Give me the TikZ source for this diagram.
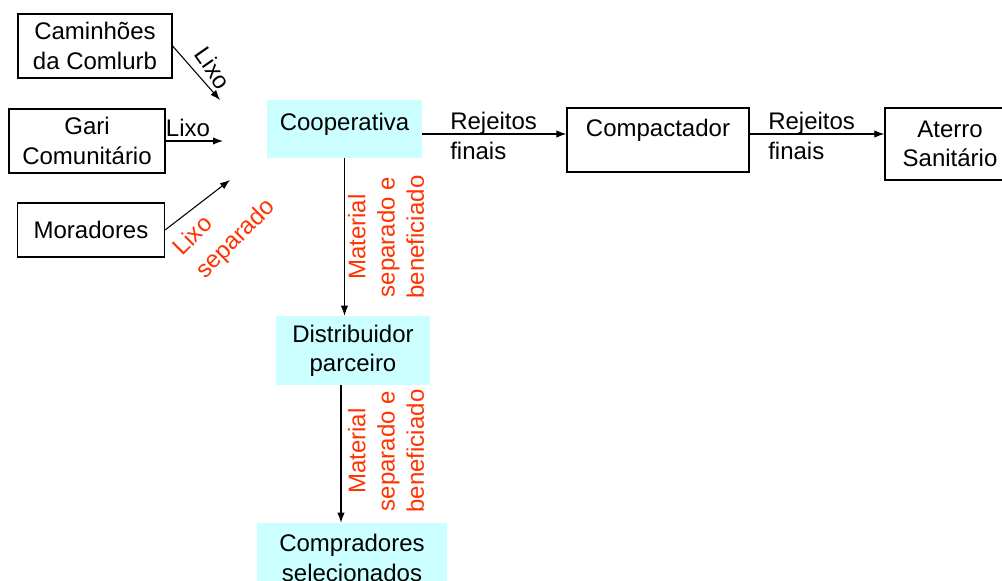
\documentclass[tikz,border=0pt]{standalone}
\usepackage{fontspec}
\setmainfont{Liberation Sans}
\usetikzlibrary{positioning, arrows.meta}
\definecolor{ciano}{RGB}{204,255,255}
\definecolor{vermelho}{RGB}{255,51,0}
\tikzset{
	caixa/.style={draw, line width=0.9pt, align=center, inner sep=0pt},
	caixaciano/.style={fill=ciano, align=center, inner sep=0pt},
	seta/.style={-{Latex[length=7.5pt,width=5.5pt]}, line width=0.8pt},
	rotulo/.style={align=left, inner sep=0pt},
	rotulovermelho/.style={text=vermelho, align=center, inner sep=0pt}
}

\begin{document}
\begin{tikzpicture}[x=0.75pt, y=-0.75pt, font=\fontsize{18}{22}\selectfont]
		\clip (0,0) rectangle (1002,581);
		
		% origens do lixo
		\node[caixa, minimum width=115.5pt, minimum height=48pt] (cam) at (95,46) {Caminhões\\da Comlurb};
		\node[caixa, minimum width=117pt, minimum height=48pt] (gari) at (87,141) {Gari\\Comunitário};
		\node[caixa, minimum width=110.25pt, minimum height=40.5pt] (mor) at (91,230) {Moradores};
		
		\coordinate (alvoA) at (220,100);
		\coordinate (alvoB) at (223,141);
		\coordinate (alvoC) at (230,180);
		
		\draw[seta] (cam.east)--(alvoA);
		\draw[seta] (gari.east)--(alvoB);
		\draw[seta] (mor.east)--(alvoC);
		
		\node[rotulo, rotate=-55] (lixoA) at (213,68) {Lixo};
		\node[rotulo] (lixoB) at (188,128) {Lixo};
		\node[rotulo, text=vermelho, rotate=45, font=\fontsize{18}{24}\selectfont] (lixoC) at (225,228) {Lixo\\separado};
		
		% cooperativa e rejeitos
		\node[caixaciano, minimum width=116.25pt, minimum height=43.5pt, text height=13pt, text depth=10.5pt] (coop) at (344.5,129) {Cooperativa};
		\node[caixa, minimum width=136.5pt, minimum height=48pt, text height=13pt, text depth=18pt] (comp) at (658,140) {Compactador};
		\node[caixa, minimum width=97.5pt, minimum height=54pt] (aterro) at (950,144) {Aterro\\Sanitário};
		
		\coordinate (nivel) at (0,134);
		\draw[seta] (coop.east |- nivel)--(comp.west |- nivel);
		\draw[seta] (comp.east |- nivel)--(aterro.west |- nivel);
		
		\node[rotulo, anchor=west] (rejA) at (450,136) {Rejeitos\\finais};
		\node[rotulo, anchor=west] (rejB) at (768,136) {Rejeitos\\finais};
		
		% material separado
		\node[caixaciano, minimum width=115.5pt, minimum height=51.75pt] (dist) at (353,350.5) {Distribuidor\\parceiro};
		\node[caixaciano, minimum width=142.5pt, minimum height=52.5pt] (compr) at (352,558) {Compradores\\selecionados};
		
		\coordinate (coluna) at (341,0);
		\draw[seta] (coop.south)--(coop.south |- dist.north);
		\draw[seta] (dist.south -| coluna)--(coluna |- compr.north);
		
		\node[rotulovermelho, rotate=90] (matA) at (386,237) {Material\\separado e\\beneficiado};
		\node[rotulovermelho, rotate=90] (matB) at (386,451) {Material\\separado e\\beneficiado};
\end{tikzpicture}
\end{document}
